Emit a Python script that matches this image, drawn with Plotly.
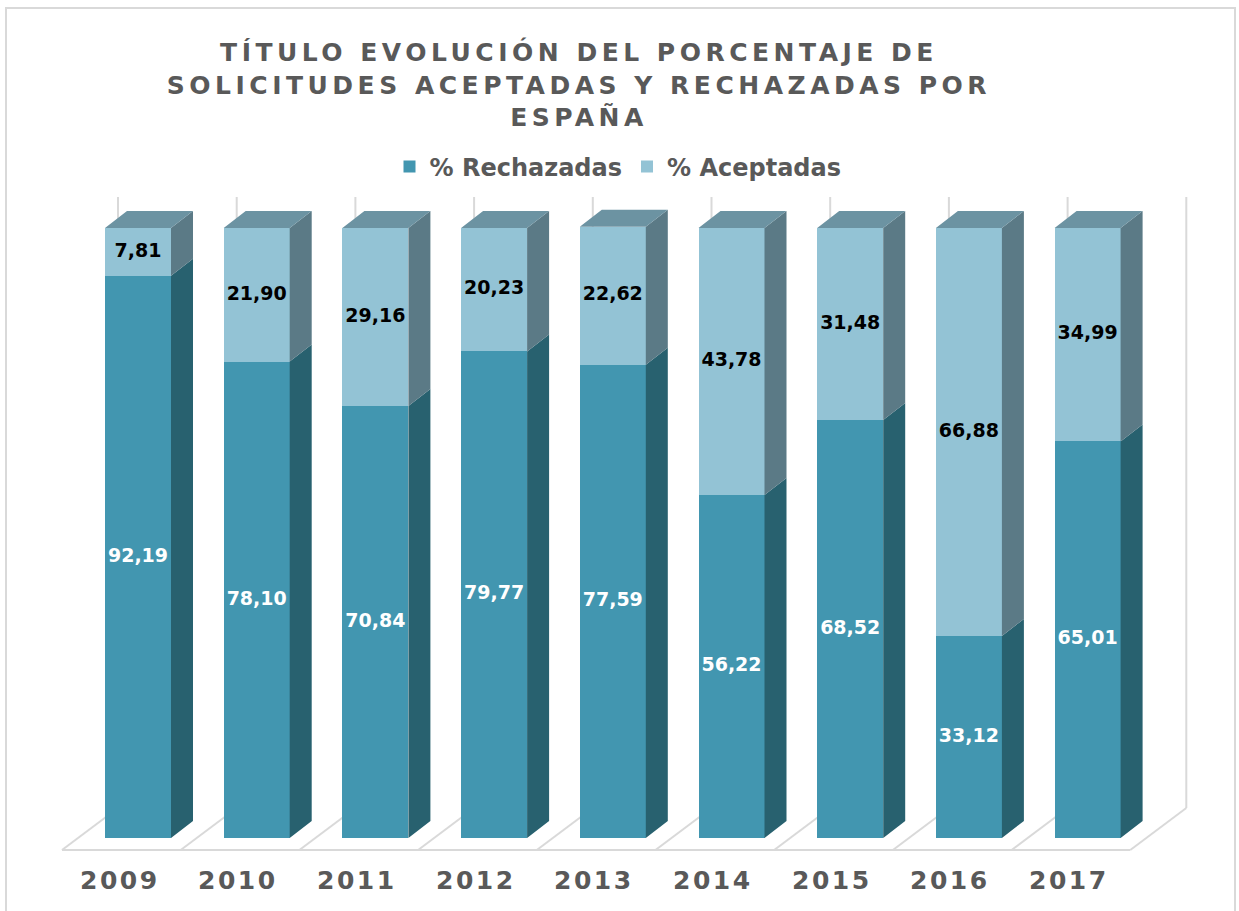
import plotly.graph_objects as go

# ---------------- data ----------------
years = ['2009', '2010', '2011', '2012', '2013', '2014', '2015', '2016', '2017']
rechazadas = [92.19, 78.10, 70.84, 79.77, 77.59, 56.22, 68.52, 33.12, 65.01]
aceptadas = [7.81, 21.90, 29.16, 20.23, 22.62, 43.78, 31.48, 66.88, 34.99]
series_names = ['% Rechazadas', '% Aceptadas']
title_text = ('TÍTULO EVOLUCIÓN DEL PORCENTAJE DE<br>'
              'SOLICITUDES ACEPTADAS Y RECHAZADAS POR<br>ESPAÑA')

# ---------------- geometry / style ----------------
W, H = 1239, 911
PX_X = 118.7   # px per category
X0 = 138.0     # px of first bar front-face centre
PX_Y = 6.1     # px per percentage point
Y0 = 838.0     # px of value 0 (front face)


def xd(px):
    return (px - X0) / PX_X


def yd(px):
    return (Y0 - px) / PX_Y


bar_w = 66 / PX_X
dx = 22 / PX_X
dy = 17 / PX_Y

FRONT = {'r': '#4296B0', 'a': '#93C3D5'}
SIDE = {'r': '#28616F', 'a': '#5B7A86'}
TOP = '#6C93A2'
GRID = '#D9D9D9'
GRAY = '#595959'
FONT = 'DejaVu Sans'

idx = list(range(len(years)))
fig = go.Figure()


def fmt(v):
    return f"{v:.2f}".replace('.', ',')


# ---- front faces (real bars) ----
fig.add_trace(go.Bar(x=idx, y=rechazadas, width=bar_w, name=series_names[0],
                     marker=dict(color=FRONT['r'], line=dict(width=0)),
                     hoverinfo='skip'))
fig.add_trace(go.Bar(x=idx, y=aceptadas, width=bar_w, name=series_names[1],
                     marker=dict(color=FRONT['a'], line=dict(width=0)),
                     hoverinfo='skip'))


# ---- side faces ----
def side_poly(bases, heights):
    xs, ys = [], []
    for i, (b, h) in enumerate(zip(bases, heights)):
        xr = i + bar_w / 2
        xs += [xr, xr + dx, xr + dx, xr, xr, None]
        ys += [b, b + dy, b + h + dy, b + h, b, None]
    return xs, ys


sx, sy = side_poly([0] * len(idx), rechazadas)
fig.add_trace(go.Scatter(x=sx, y=sy, mode='lines', fill='toself', fillcolor=SIDE['r'],
                         line=dict(width=0, color=SIDE['r']), showlegend=False,
                         hoverinfo='skip'))
sx, sy = side_poly(rechazadas, aceptadas)
fig.add_trace(go.Scatter(x=sx, y=sy, mode='lines', fill='toself', fillcolor=SIDE['a'],
                         line=dict(width=0, color=SIDE['a']), showlegend=False,
                         hoverinfo='skip'))

# ---- top faces ----
tx, ty = [], []
for i, (r, a) in enumerate(zip(rechazadas, aceptadas)):
    t = r + a
    xl, xr = i - bar_w / 2, i + bar_w / 2
    tx += [xl, xl + dx, xr + dx, xr, xl, None]
    ty += [t, t + dy, t + dy, t, t, None]
fig.add_trace(go.Scatter(x=tx, y=ty, mode='lines', fill='toself', fillcolor=TOP,
                         line=dict(width=0, color=TOP), showlegend=False,
                         hoverinfo='skip'))

# ---- data labels ----
fig.add_trace(go.Scatter(x=idx, y=[r / 2 for r in rechazadas], mode='text',
                         text=[fmt(v) for v in rechazadas],
                         textfont=dict(family=FONT, size=19, color='white', weight='bold'),
                         showlegend=False, hoverinfo='skip'))
fig.add_trace(go.Scatter(x=idx, y=[r + a / 2 for r, a in zip(rechazadas, aceptadas)],
                         mode='text', text=[fmt(v) for v in aceptadas],
                         textfont=dict(family=FONT, size=19, color='black', weight='bold'),
                         showlegend=False, hoverinfo='skip'))

# ---- walls / floor (behind everything) ----
shapes = []
floor_front_y = yd(850)
floor_back_y = yd(808)
wall_top_y = yd(197)
back_x0 = xd(118)
front_x0 = xd(62)
n = len(years)
for k in range(n + 1):
    bx = back_x0 + k
    fx = front_x0 + k
    shapes.append(dict(type='line', xref='x', yref='y', x0=bx, x1=bx,
                       y0=floor_back_y, y1=wall_top_y, layer='below',
                       line=dict(color=GRID, width=2)))
    shapes.append(dict(type='line', xref='x', yref='y', x0=fx, x1=bx,
                       y0=floor_front_y, y1=floor_back_y, layer='below',
                       line=dict(color=GRID, width=2)))
shapes.append(dict(type='line', xref='x', yref='y', x0=front_x0, x1=front_x0 + n,
                   y0=floor_front_y, y1=floor_front_y, layer='below',
                   line=dict(color=GRID, width=2)))
# chart border
shapes.append(dict(type='rect', xref='paper', yref='paper', x0=6 / W, x1=1235 / W,
                   y0=-0.05, y1=1 - 8 / H, layer='below',
                   line=dict(color=GRID, width=2)))

# ---- category labels ----
annotations = []
for i, yr in enumerate(years):
    annotations.append(dict(x=i + xd(119.5), y=yd(880.5), xref='x', yref='y',
                            text=yr, showarrow=False, xanchor='center', yanchor='middle',
                            font=dict(family=FONT, size=25, color=GRAY, weight='bold')))

fig.update_layout(
    width=W, height=H,
    margin=dict(l=0, r=0, t=0, b=0),
    paper_bgcolor='white', plot_bgcolor='white',
    barmode='stack', bargap=0,
    xaxis=dict(range=[xd(0), xd(W)], visible=False, fixedrange=True),
    yaxis=dict(range=[yd(H), yd(0)], visible=False, fixedrange=True),
    title=dict(text=title_text, x=579 / W, xanchor='center', xref='container',
               y=1 - 61 / H, yanchor='top', yref='container',
               font=dict(family=FONT, size=25, color=GRAY, weight='bold')),
    legend=dict(orientation='h', x=618 / W, xanchor='center', y=1 - 167 / H,
                yanchor='middle', bgcolor='rgba(0,0,0,0)', traceorder='normal',
                font=dict(family=FONT, size=24, color=GRAY, weight='bold')),
    shapes=shapes,
    annotations=annotations,
    hovermode=False,
    showlegend=True,
)

post = """
var s = document.createElement('style');
s.innerHTML = 'body{margin:0;} .gtitle{letter-spacing:4.5px;} .annotation-text{letter-spacing:2.5px;}';
document.head.appendChild(s);
"""

fig.write_html("out.html", post_script=post, config={'displayModeBar': False})
